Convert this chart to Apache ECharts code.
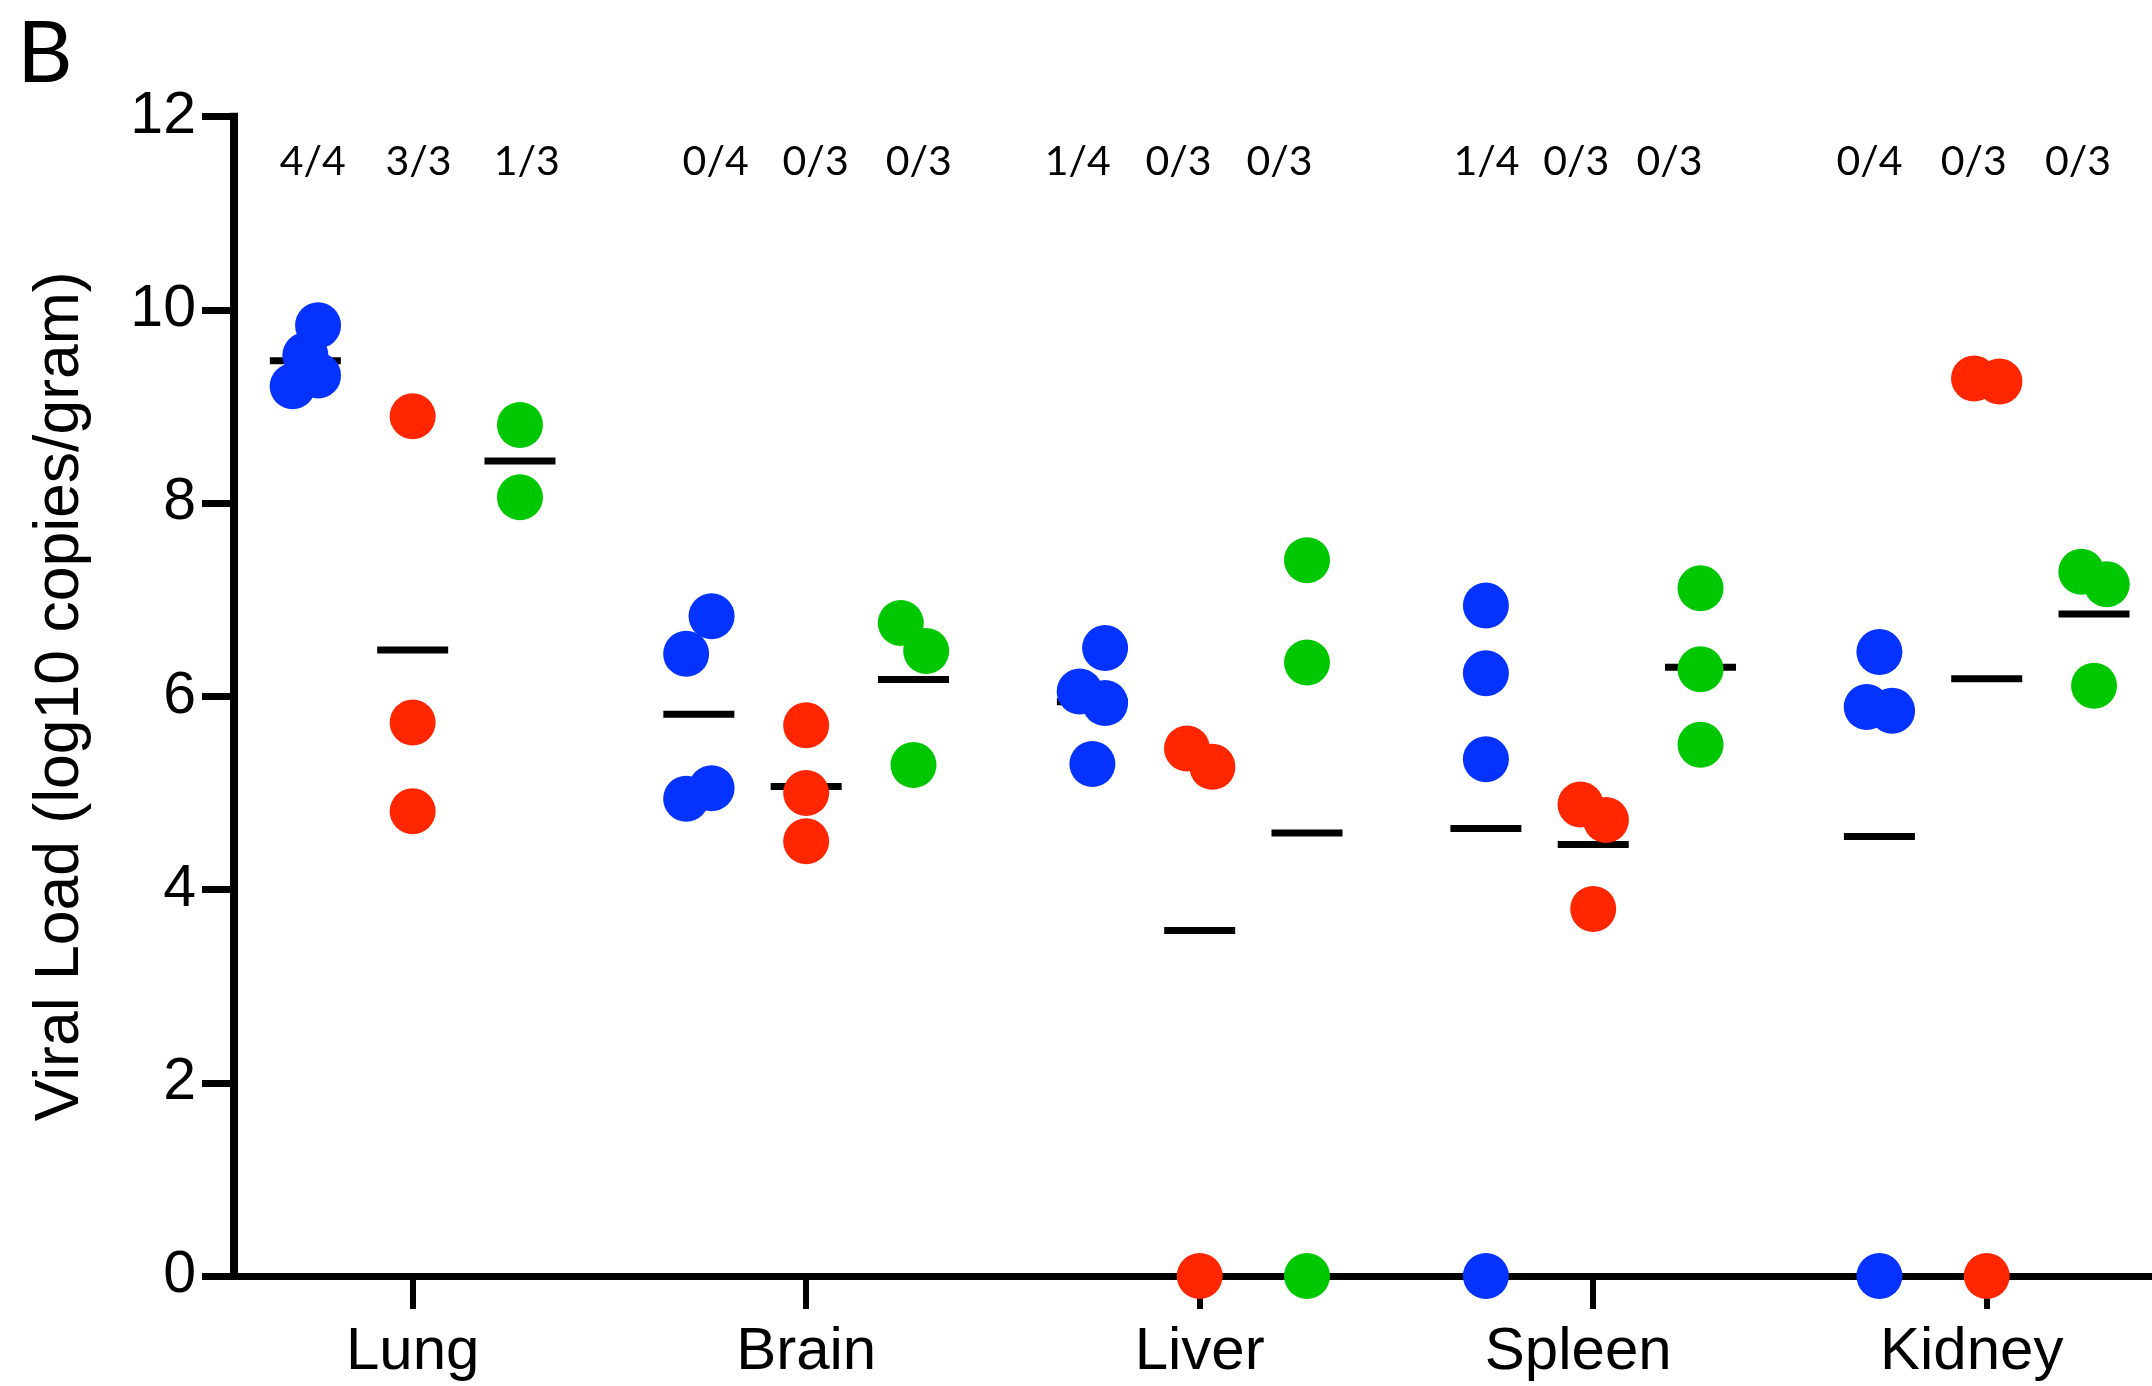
<!DOCTYPE html>
<html>
<head>
<meta charset="utf-8">
<script src="https://cdn.jsdelivr.net/npm/echarts@6/dist/echarts.min.js"></script>
<style>
  html, body { margin: 0; padding: 0; background: #fff; }
  #chart { width: 2152px; height: 1386px; }
</style>
</head>
<body>
<div id="chart"></div>
<script>
// ---------------- data ----------------
const categories = ['Lung', 'Brain', 'Liver', 'Spleen', 'Kidney'];
const yTicks = [0, 2, 4, 6, 8, 10, 12];
const yTitle = 'Viral Load (log10 copies/gram)';
const panelLetter = 'B';

// group 1 (blue) values per category
const blueValues = [
  [9.84, 9.53, 9.32, 9.21],
  [6.83, 6.44, 5.05, 4.94],
  [6.50, 6.05, 5.93, 5.30],
  [6.94, 6.24, 5.35, 0],
  [6.46, 5.89, 5.85, 0]
];
// group 2 (red) values per category
const redValues = [
  [8.90, 5.73, 4.81],
  [5.70, 5.00, 4.50],
  [5.46, 5.27, 0],
  [4.88, 4.72, 3.80],
  [9.29, 9.26, 0]
];
// group 3 (green) values per category
const greenValues = [
  [8.81, 8.06],
  [6.76, 6.47, 5.29],
  [7.41, 6.35, 0],
  [7.12, 6.28, 5.50],
  [7.29, 7.16, 6.11]
];
// horizontal scatter of overlapping points (-1 left, 0 centre, 1 right)
const blueJitter  = [[1, 0, 1, -1], [1, -1, 1, -1], [1, -1, 1, 0], [0, 0, 0, 0], [0, -1, 1, 0]];
const redJitter   = [[0, 0, 0], [0, 0, 0], [-1, 1, 0], [-1, 1, 0], [-1, 1, 0]];
const greenJitter = [[0, 0], [-1, 1, 0], [0, 0, 0], [0, 0, 0], [-1, 1, 0]];

// positive-fraction annotations above each group
const blueFractions  = ['4/4', '0/4', '1/4', '1/4', '0/4'];
const redFractions   = ['3/3', '0/3', '0/3', '0/3', '0/3'];
const greenFractions = ['1/3', '0/3', '0/3', '0/3', '0/3'];
// annotation anchor x (in category-axis units) and y (in value units)
const blueFractionX  = [0.746, 1.770, 2.690, 3.729, 4.702];
const redFractionX   = [1.015, 2.024, 2.946, 3.957, 4.967];
const greenFractionX = [1.290, 2.286, 3.203, 4.194, 5.232];
const fractionY = 11.53;

// ---------------- layout / style ----------------
const GROUP_OFFSET = 0.2727;
const JITTER_STEP = 0.0323;
const COLORS = { blue: '#0433ff', red: '#ff2600', green: '#00c800' };
const AXIS_FONT = '"Liberation Sans", Arial, Helvetica, sans-serif';
const LABEL_FONT = 'Lato, "Open Sans", sans-serif';

function points(values, jitter, offset) {
  const out = [];
  values.forEach((arr, i) => {
    arr.forEach((v, j) => {
      out.push([i + 1 + offset + jitter[i][j] * JITTER_STEP, v]);
    });
  });
  return out;
}
function means(values, offset) {
  return values.map((arr, i) => {
    const m = arr.reduce((a, b) => a + b, 0) / arr.length;
    return [i + 1 + offset, m];
  });
}
function fractionData(xs, texts) {
  return xs.map((x, i) => ({ value: [x, fractionY], name: texts[i] }));
}

const dotSeries = (data, color) => ({
  type: 'scatter',
  data: data,
  symbol: 'circle',
  symbolSize: 46,
  clip: false,
  z: 5,
  itemStyle: { color: color, opacity: 1 },
  emphasis: { disabled: true },
  silent: true
});
const meanSeries = (data) => ({
  type: 'scatter',
  data: data,
  symbol: 'rect',
  symbolSize: [71, 7],
  clip: false,
  z: 4,
  itemStyle: { color: '#000', opacity: 1 },
  emphasis: { disabled: true },
  silent: true
});
const labelSeries = (data) => ({
  type: 'scatter',
  data: data,
  symbol: 'circle',
  symbolSize: 2,
  clip: false,
  z: 6,
  itemStyle: { color: 'rgba(255,255,255,0)', opacity: 1 },
  label: {
    show: true,
    position: 'inside',
    formatter: '{b}',
    fontFamily: LABEL_FONT,
    fontSize: 41,
    color: '#000',
    opacity: 1
  },
  emphasis: { disabled: true },
  silent: true
});

const chart = echarts.init(document.getElementById('chart'), null, { renderer: 'canvas' });
chart.setOption({
  animation: false,
  backgroundColor: '#fff',
  title: {
    text: panelLetter,
    left: 12,
    top: 6,
    textStyle: { fontFamily: LABEL_FONT, fontSize: 86, fontWeight: 'normal', color: '#000' }
  },
  grid: { left: 234, right: 0, top: 116.7, bottom: 110, containLabel: false },
  xAxis: {
    type: 'value',
    min: 0.546,
    max: 5.42,
    splitLine: { show: false },
    axisLine: { show: true, onZero: false, lineStyle: { color: '#000', width: 7 } },
    axisTick: {
      show: true, inside: false, length: 33, customValues: [1, 2, 3, 4, 5],
      lineStyle: { color: '#000', width: 6 }
    },
    axisLabel: {
      show: true, customValues: [1, 2, 3, 4, 5], margin: 46,
      formatter: (v) => {
        const name = categories[Math.round(v) - 1] || '';
        return Math.round(v) >= 4 ? '{s|' + name + '}' : name;
      },
      rich: { s: { fontFamily: AXIS_FONT, fontSize: 60, color: '#000', padding: [0, 30, 0, 0] } },
      fontFamily: AXIS_FONT, fontSize: 60, color: '#000'
    }
  },
  yAxis: {
    type: 'value',
    min: yTicks[0],
    max: yTicks[yTicks.length - 1],
    interval: yTicks[1] - yTicks[0],
    name: yTitle,
    nameLocation: 'middle',
    nameRotate: 90,
    nameGap: 142,
    nameTextStyle: { fontFamily: AXIS_FONT, fontSize: 62.5, color: '#000' },
    splitLine: { show: false },
    axisLine: { show: true, lineStyle: { color: '#000', width: 8, cap: 'square' } },
    axisTick: { show: true, inside: false, length: 32, lineStyle: { color: '#000', width: 7 } },
    axisLabel: { show: true, margin: 38, fontFamily: AXIS_FONT, fontSize: 59, color: '#000' }
  },
  series: [
    meanSeries(means(blueValues, -GROUP_OFFSET)),
    meanSeries(means(redValues, 0)),
    meanSeries(means(greenValues, GROUP_OFFSET)),
    dotSeries(points(blueValues, blueJitter, -GROUP_OFFSET), COLORS.blue),
    dotSeries(points(redValues, redJitter, 0), COLORS.red),
    dotSeries(points(greenValues, greenJitter, GROUP_OFFSET), COLORS.green),
    labelSeries(fractionData(blueFractionX, blueFractions)),
    labelSeries(fractionData(redFractionX, redFractions)),
    labelSeries(fractionData(greenFractionX, greenFractions))
  ]
});
</script>
</body>
</html>
